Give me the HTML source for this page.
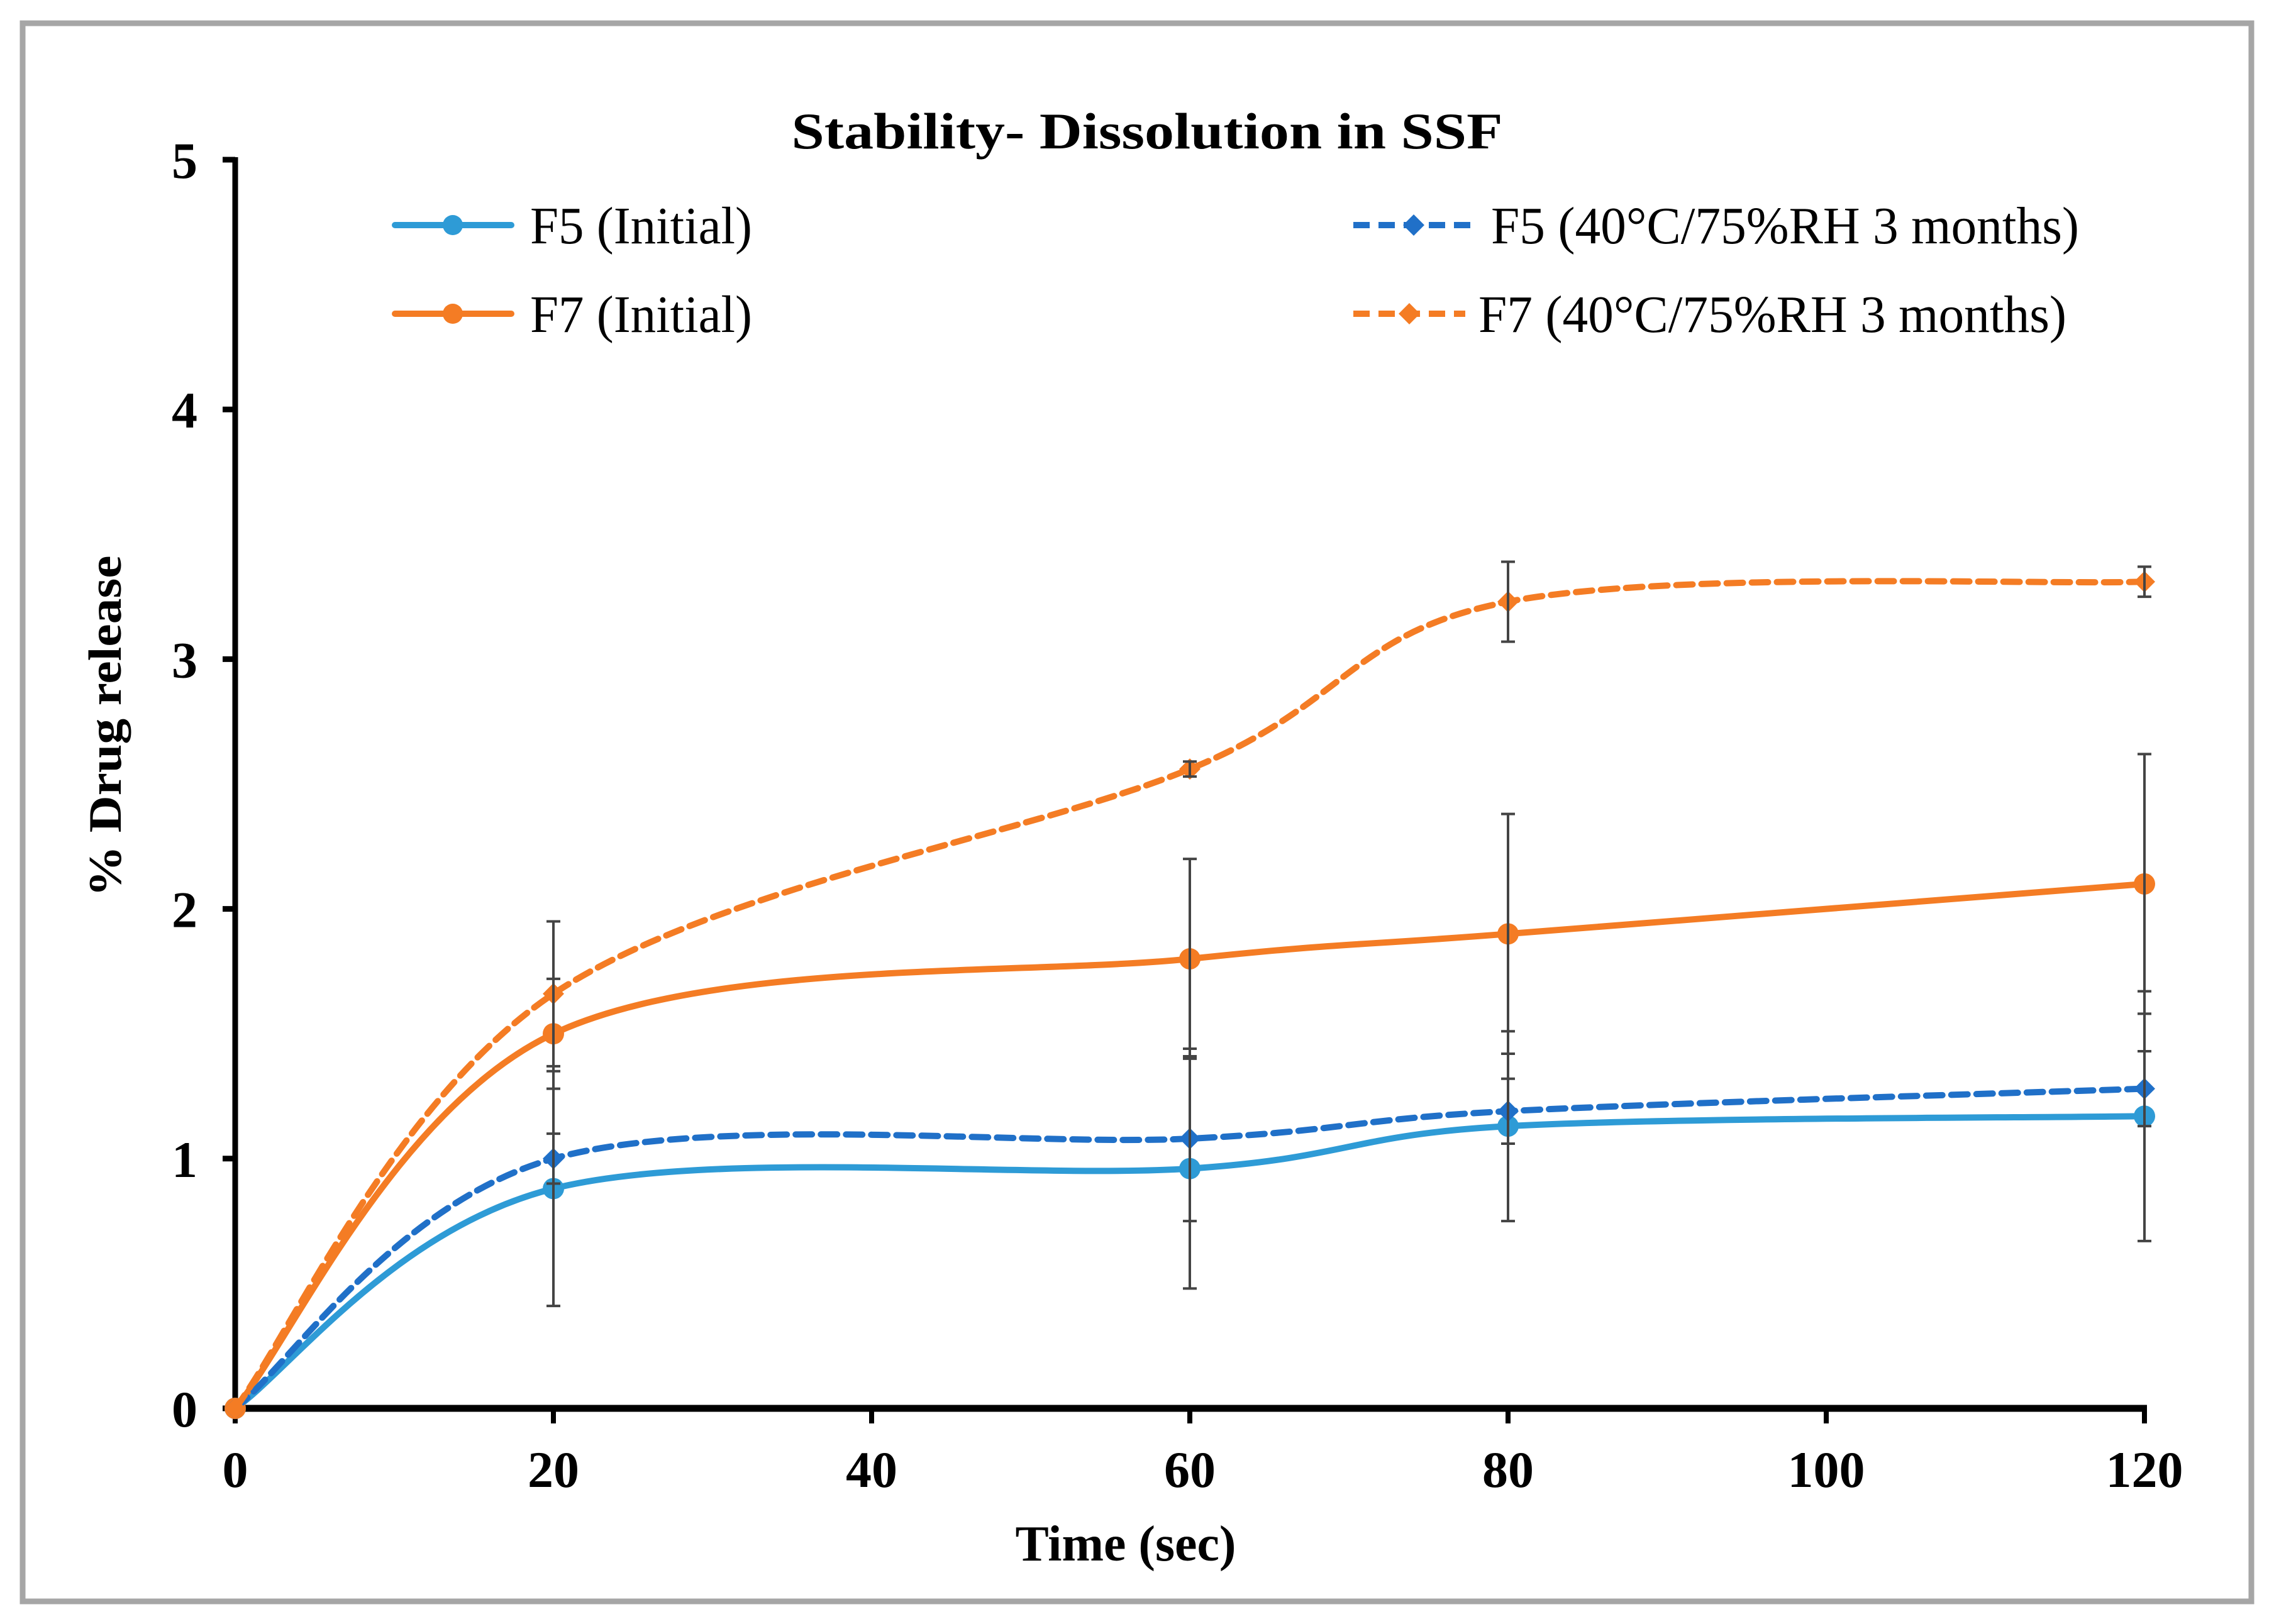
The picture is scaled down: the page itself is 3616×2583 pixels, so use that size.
<!DOCTYPE html>
<html><head><meta charset="utf-8"><style>
html,body{margin:0;padding:0;background:#fff;}
svg{display:block;}
</style></head><body>
<svg id="chart" width="3616" height="2583" viewBox="0 0 3616 2583" xmlns="http://www.w3.org/2000/svg">
<rect x="0" y="0" width="3616" height="2583" fill="#fff"/>
<rect x="36" y="37" width="3544" height="2510" fill="none" stroke="#a6a6a6" stroke-width="9"/>
<text x="1824" y="236" text-anchor="middle" font-family="Liberation Serif, serif" font-weight="bold" font-size="82" textLength="1131" lengthAdjust="spacingAndGlyphs">Stability- Dissolution in SSF</text>
<g id="plot"></g>
<text x="1790" y="2482" text-anchor="middle" font-family="Liberation Serif, serif" font-weight="bold" font-size="80" textLength="351" lengthAdjust="spacingAndGlyphs">Time (sec)</text>
<text transform="translate(192,1155) rotate(-90)" text-anchor="middle" font-family="Liberation Serif, serif" font-weight="bold" font-size="74" textLength="543" lengthAdjust="spacingAndGlyphs">% Drug release</text>
<g font-family="Liberation Serif, serif" font-size="84">
  <g>
    <line x1="628" y1="358" x2="813" y2="358" stroke="#2E9BD6" stroke-width="10" stroke-linecap="round"/>
    <circle cx="720" cy="358" r="16" fill="#2E9BD6"/>
    <text x="843" y="387" textLength="353" lengthAdjust="spacingAndGlyphs">F5 (Initial)</text>
  </g>
  <g>
    <line x1="628" y1="499" x2="813" y2="499" stroke="#F47C24" stroke-width="10" stroke-linecap="round"/>
    <circle cx="720" cy="499" r="16" fill="#F47C24"/>
    <text x="843" y="528" textLength="353" lengthAdjust="spacingAndGlyphs">F7 (Initial)</text>
  </g>
  <g>
    <line x1="2152" y1="358" x2="2344" y2="358" stroke="#2070C8" stroke-width="10" stroke-dasharray="26,14"/>
    <rect x="2236" y="346" width="24" height="24" fill="#2070C8" transform="rotate(45 2248 358)"/>
    <text x="2371" y="387" textLength="935" lengthAdjust="spacingAndGlyphs">F5 (40°C/75%RH 3 months)</text>
  </g>
  <g>
    <line x1="2152" y1="499" x2="2330" y2="499" stroke="#F47C24" stroke-width="10" stroke-dasharray="26,14"/>
    <rect x="2229" y="487" width="24" height="24" fill="#F47C24" transform="rotate(45 2241 499)"/>
    <text x="2351" y="528" textLength="935" lengthAdjust="spacingAndGlyphs">F7 (40°C/75%RH 3 months)</text>
  </g>
</g>
</svg>
<script>
const times = [0, 20, 60, 80, 120];
const f5Initial = [0, 0.88, 0.96, 1.13, 1.17];
const f5InitialErr = [0, 0.47, 0.48, 0.38, 0.50];
const f5Aged = [0, 1.00, 1.08, 1.19, 1.28];
const f5AgedErr = [0, 0.10, 0.33, 0.13, 0.15];
const f7Initial = [0, 1.50, 1.80, 1.90, 2.10];
const f7InitialErr = [0, 0.22, 0.40, 0.48, 0.52];
const f7Aged = [0, 1.66, 2.56, 3.23, 3.31];
const f7AgedErr = [0, 0.29, 0.03, 0.16, 0.06];
const xTicks = [0, 20, 40, 60, 80, 100, 120];
const yTicks = [0, 1, 2, 3, 4, 5];

const NS = 'http://www.w3.org/2000/svg';
const X0 = 374, X1 = 3410, Y0 = 2240, Y1 = 254;
function sx(v){ return X0 + (v - 0) / 120 * (X1 - X0); }
function sy(v){ return Y0 - (v - 0) / 5 * (Y0 - Y1); }
const plot = document.getElementById('plot');
function mk(tag, attrs, parent){
  const e = document.createElementNS(NS, tag);
  for (const k in attrs) e.setAttribute(k, attrs[k]);
  (parent || plot).appendChild(e);
  return e;
}
function smoothPath(xs, ys){
  const p = xs.map((x,i)=>[sx(x), sy(ys[i])]);
  let d = 'M' + p[0][0] + ',' + p[0][1];
  for (let i = 0; i < p.length - 1; i++){
    const p0 = p[Math.max(0,i-1)], p1 = p[i], p2 = p[i+1], p3 = p[Math.min(p.length-1,i+2)];
    const c1 = [p1[0] + (p2[0]-p0[0])/6, p1[1] + (p2[1]-p0[1])/6];
    const c2 = [p2[0] - (p3[0]-p1[0])/6, p2[1] - (p3[1]-p1[1])/6];
    d += ' C' + c1[0] + ',' + c1[1] + ' ' + c2[0] + ',' + c2[1] + ' ' + p2[0] + ',' + p2[1];
  }
  return d;
}

const yAxis = mk('line', {x1:X0, y1:Y1-4, x2:X0, y2:Y0, stroke:'#000', 'stroke-width':9});


yTicks.forEach(t => {
  const tk = mk('line', {x1:X0-20, y1:sy(t), x2:X0, y2:sy(t), stroke:'#000', 'stroke-width':9});
  
  
  const lb = mk('text', {x:314, y:sy(t)+29, 'text-anchor':'end', 'font-family':'Liberation Serif, serif', 'font-weight':'bold', 'font-size':82});
  lb.textContent = t;
  
  
});
const xAxis = mk('line', {x1:X0-4, y1:Y0, x2:X1+4, y2:Y0, stroke:'#000', 'stroke-width':11});


xTicks.forEach(t => {
  const tk = mk('line', {x1:sx(t), y1:Y0, x2:sx(t), y2:Y0+24, stroke:'#000', 'stroke-width':8});
  
  
  const lb = mk('text', {x:sx(t), y:2365, 'text-anchor':'middle', 'font-family':'Liberation Serif, serif', 'font-weight':'bold', 'font-size':82});
  lb.textContent = t;
  
  
});

const series = [
  {name:'f5-initial', vals:f5Initial, err:f5InitialErr, color:'#2E9BD6', dash:null, marker:'circle'},
  {name:'f7-initial', vals:f7Initial, err:f7InitialErr, color:'#F47C24', dash:null, marker:'circle'},
  {name:'f5-aged', vals:f5Aged, err:f5AgedErr, color:'#2070C8', dash:'26,14', marker:'diamond'},
  {name:'f7-aged', vals:f7Aged, err:f7AgedErr, color:'#F47C24', dash:'26,14', marker:'diamond'}
];
series.forEach(s => {
  const g = mk('g', {});
  
  
  const path = mk('path', {d:smoothPath(times, s.vals), fill:'none', stroke:s.color, 'stroke-width':10, 'stroke-linecap':'round'}, g);
  if (s.dash) path.setAttribute('stroke-dasharray', s.dash);
  
  
  times.forEach((t,i) => {
    const cx = sx(t), cy = sy(s.vals[i]);
    let m;
    if (s.marker === 'circle') {
      m = mk('circle', {cx:cx, cy:cy, r:17, fill:s.color}, g);
    } else {
      m = mk('rect', {x:cx-12, y:cy-12, width:24, height:24, fill:s.color, transform:'rotate(45 '+cx+' '+cy+')'}, g);
    }
    
    
  });
});
series.forEach(s => {
  times.forEach((t,i) => {
    if (!s.err[i]) return;
    const cx = sx(t), top = sy(s.vals[i] + s.err[i]), bot = sy(s.vals[i] - s.err[i]);
    const eb = mk('path', {d:'M'+cx+','+top+' V'+bot+' M'+(cx-11)+','+top+' H'+(cx+11)+' M'+(cx-11)+','+bot+' H'+(cx+11), stroke:'#444', 'stroke-width':4, fill:'none'});
    
    
  });
});
</script>
</body></html>
